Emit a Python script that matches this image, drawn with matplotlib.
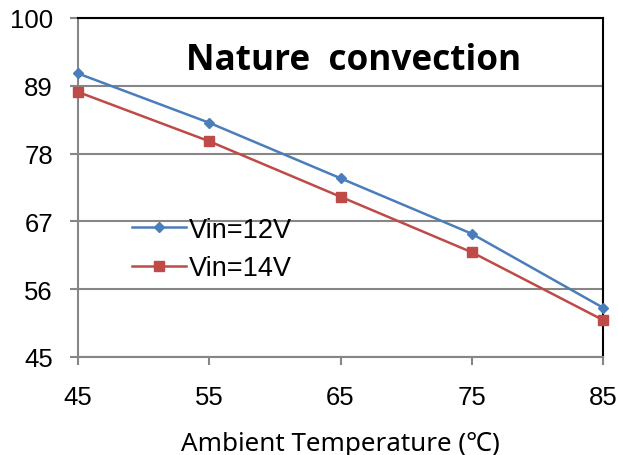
import matplotlib
matplotlib.use('Agg')
import matplotlib.pyplot as plt

# Data
temps = [45, 55, 65, 75, 85]
vin12 = [91.0, 83.0, 74.0, 65.0, 53.0]
vin14 = [88.0, 80.0, 71.0, 62.0, 51.0]
y_ticks = [45, 56, 67, 78, 89, 100]
x_ticks = [45, 55, 65, 75, 85]

blue = '#4A7EBB'
red = '#BE4B48'
grid_gray = '#868686'

fig = plt.figure(figsize=(6.18, 4.56), dpi=100)
ax = fig.add_axes([78 / 618, 1 - 358 / 456, 525 / 618, 339 / 456])

ax.plot(temps, vin12, color=blue, linewidth=1.8, marker='D', markersize=5.5,
        label='Vin=12V', zorder=3, clip_on=False)
ax.plot(temps, vin14, color=red, linewidth=1.8, marker='s', markersize=6.5,
        label='Vin=14V', zorder=3, clip_on=False)

ax.set_xlim(45, 85)
ax.set_ylim(45, 100)
ax.set_xticks(x_ticks)
ax.set_yticks(y_ticks)

# Horizontal gridlines only
ax.yaxis.grid(True, color=grid_gray, linewidth=1.5)
ax.set_axisbelow(True)

for side in ['left', 'bottom']:
    ax.spines[side].set_color(grid_gray)
    ax.spines[side].set_linewidth(1.5)
for side in ['top', 'right']:
    ax.spines[side].set_color('black')
    ax.spines[side].set_linewidth(1.5)

ax.tick_params(axis='both', colors=grid_gray, labelcolor='black', labelsize=18.5,
               length=6, width=1.5, direction='out')
ax.tick_params(axis='x', pad=14)
ax.tick_params(axis='y', pad=12)
for lbl in ax.get_xticklabels() + ax.get_yticklabels():
    lbl.set_fontfamily('Liberation Sans')

ax.text(0.525, 0.877, 'Nature  convection', transform=ax.transAxes, ha='center', va='center',
        fontsize=25.3, fontweight='bold', family=['Open Sans', 'DejaVu Sans'])

ax.set_xlabel('Ambient Temperature (\u2103)', fontsize=18.7, family=['Noto Sans', 'DejaVu Sans'],
              labelpad=16)

leg = ax.legend(loc='upper left', bbox_to_anchor=(0.082, 0.445), frameon=False,
                prop={'family': 'Liberation Sans', 'size': 19.5}, handlelength=2.0,
                handletextpad=0.1, labelspacing=0.45, borderaxespad=0)

fig.savefig('out.png', dpi=100)
